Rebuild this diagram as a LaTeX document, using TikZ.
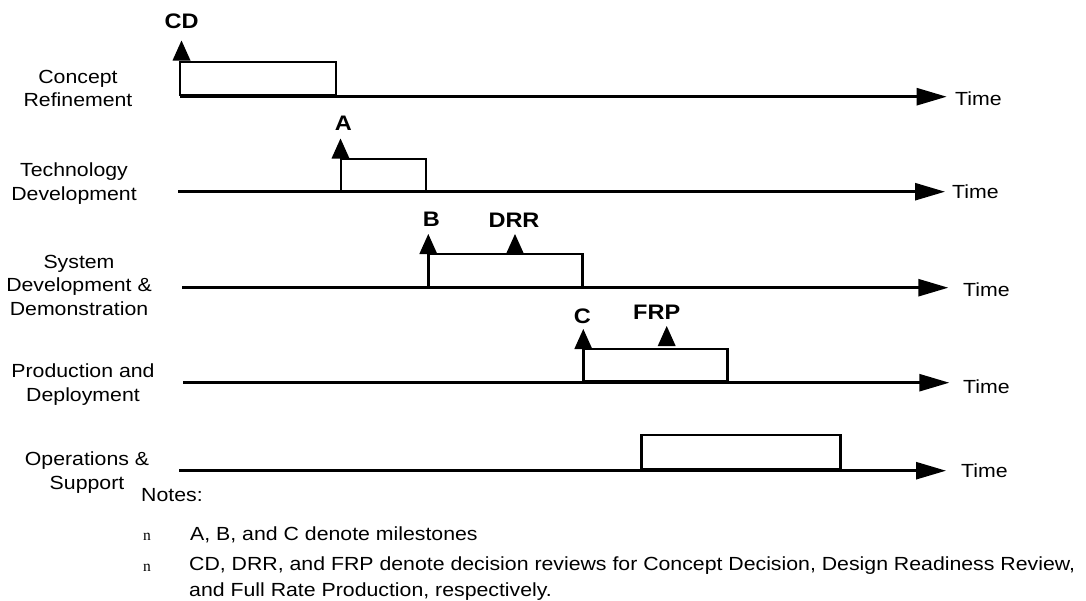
\documentclass[tikz,border=0pt]{standalone}
\usepackage{fontspec}
\setmainfont[FakeStretch=1.12]{Liberation Sans}
\newfontfamily\bulletfont{Liberation Serif}
\usetikzlibrary{arrows.meta}

% centred / left-aligned multi-line text whose baseline is the first line
\newcommand\ctrlines[1]{\begin{tabular}[t]{@{}c@{}}#1\end{tabular}}
\newcommand\leftlines[1]{\begin{tabular}[t]{@{}l@{}}#1\end{tabular}}

\begin{document}
\begin{tikzpicture}[x=1pt,y=-1pt,
  axis/.style={line width=2.6pt,-{Triangle[length=30pt,width=17pt]}},
  phasebox/.style={line width=2.5pt},
  mslabel/.style={font=\fontsize{21}{25}\selectfont\bfseries,anchor=base,inner sep=0pt},
  phaselabel/.style={font=\fontsize{19}{23.5}\selectfont,anchor=base,inner sep=0pt},
  timelabel/.style={font=\fontsize{19}{23}\selectfont,anchor=base west,inner sep=0pt},
  notetext/.style={font=\fontsize{19}{26}\selectfont,anchor=base west,inner sep=0pt},
  bullet/.style={font=\bulletfont\fontsize{15.5}{15.5}\selectfont,anchor=base west,inner sep=0pt},
  marker/.pic={\fill (-9,0) -- (9,0) -- (0,-20) -- cycle;}
]
\useasboundingbox (0,0) rectangle (1086,600);

% ---- Concept Refinement
\node[phaselabel] (lbl1) at (78,83.3) {\ctrlines{Concept\\Refinement}};
\coordinate (s1) at (180,96.7);
\coordinate (e1) at (946.7,96.7);
\draw[phasebox] (180,95.2) rectangle (336,62);
\draw[axis] (s1) -- (e1);
\node[timelabel] (t1) at (955,105) {Time};
\pic at (181.5,60.5) {marker};
\node[mslabel] (cd) at (181.7,28.7) {CD};

% ---- Technology Development
\node[phaselabel] (lbl2) at (74,176.7) {\ctrlines{Technology\\Development}};
\coordinate (s2) at (178.3,191.7);
\coordinate (e2) at (945,191.7);
\draw[phasebox] (341,191.7) rectangle (426,159);
\draw[axis] (s2) -- (e2);
\node[timelabel] (t2) at (952,198.3) {Time};
\pic at (340.5,158.5) {marker};
\node[mslabel] (msA) at (343.3,130.8) {A};

% ---- System Development & Demonstration
\node[phaselabel] (lbl3) at (79,268.3) {\ctrlines{System\\Development \&\\Demonstration}};
\coordinate (s3) at (182.3,287.7);
\coordinate (e3) at (948.3,287.7);
\draw[phasebox] (428.3,287.7) rectangle (582.7,254);
\draw[axis] (s3) -- (e3);
\node[timelabel] (t3) at (963,296.7) {Time};
\pic at (428.3,254) {marker};
\pic at (515,254) {marker};
\node[mslabel] (msB) at (431.3,226.7) {B};
\node[mslabel] (drr) at (514,227.5) {DRR};

% ---- Production and Deployment
\node[phaselabel] (lbl4) at (83,377.7) {\ctrlines{Production and\\Deployment}};
\coordinate (s4) at (183.3,382.7);
\coordinate (e4) at (949.3,382.7);
\draw[phasebox] (583.3,381.2) rectangle (727.7,349);
\draw[axis] (s4) -- (e4);
\node[timelabel] (t4) at (963,393.3) {Time};
\pic at (583.3,349) {marker};
\pic at (666.7,346) {marker};
\node[mslabel] (msC) at (582.3,323.5) {C};
\node[mslabel] (frp) at (656.7,319.2) {FRP};

% ---- Operations & Support
\node[phaselabel] (lbl5) at (87,465.7) {\ctrlines{Operations \&\\Support}};
\coordinate (s5) at (179,470.7);
\coordinate (e5) at (946,470.7);
\draw[phasebox] (641.7,469.2) rectangle (840.7,435);
\draw[axis] (s5) -- (e5);
\node[timelabel] (t5) at (961,477.7) {Time};

% ---- notes
\node[notetext] (notes) at (141,501.7) {Notes:};
\node[bullet] (b1) at (143,540) {n};
\node[notetext] (n1) at (190,540) {A, B, and C denote milestones};
\node[bullet] (b2) at (143,571) {n};
\node[notetext] (n2) at (189,570.7) {\leftlines{CD, DRR, and FRP denote decision reviews for Concept Decision, Design Readiness Review,\\and Full Rate Production, respectively.}};
\end{tikzpicture}
\end{document}
